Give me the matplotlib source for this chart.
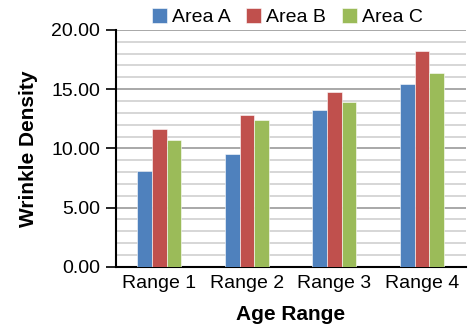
import numpy as np
import matplotlib
matplotlib.use('Agg')
import matplotlib.pyplot as plt
from matplotlib.ticker import MultipleLocator, FormatStrFormatter

plt.rcParams['font.family'] = ['Liberation Sans', 'DejaVu Sans']

categories = ['Range 1', 'Range 2', 'Range 3', 'Range 4']
area_a = [8.05, 9.5, 13.2, 15.4]
area_b = [11.6, 12.8, 14.8, 18.2]
area_c = [10.7, 12.4, 13.9, 16.4]
series = [('Area A', area_a, '#4F81BD'),
          ('Area B', area_b, '#C0504D'),
          ('Area C', area_c, '#9BBB59')]

fig = plt.figure(figsize=(4.68, 3.29), dpi=100)
ax = fig.add_axes([0.247, 0.189, 0.748, 0.72])

x = np.arange(len(categories))
w = 0.167
for i, (name, vals, col) in enumerate(series):
    ax.bar(x + (i - 1) * w, vals, w, color=col, label=name,
           edgecolor='white', linewidth=0.4, zorder=3)

ax.set_xlim(-0.5, 3.5)
ax.set_ylim(0, 20)
ax.yaxis.set_major_locator(MultipleLocator(5))
ax.yaxis.set_minor_locator(MultipleLocator(1))
ax.yaxis.set_major_formatter(FormatStrFormatter('%.2f'))
ax.grid(True, which='minor', axis='y', color='#CFCFCF', linewidth=1.2, zorder=0)
ax.grid(True, which='major', axis='y', color='#9A9A9A', linewidth=1.2, zorder=0)
ax.set_xticks(x)
ax.set_xticklabels(categories)
ax.tick_params(axis='x', length=0, labelsize=14, pad=6)
ax.tick_params(axis='y', which='major', length=7, width=1.2, labelsize=14,
               direction='out', pad=4)
ax.tick_params(axis='y', which='minor', length=0)

for s in ['top', 'right']:
    ax.spines[s].set_visible(False)
ax.spines['left'].set_linewidth(1.5)
ax.spines['bottom'].set_linewidth(1.5)

ax.set_xlabel('Age Range', fontsize=15, fontweight='bold', labelpad=9)
ax.set_ylabel('Wrinkle Density', fontsize=15, fontweight='bold', labelpad=10)

fig.legend(*ax.get_legend_handles_labels(), loc='center',
           bbox_to_anchor=(0.614, 0.947), bbox_transform=fig.transFigure,
           ncol=3, frameon=False, fontsize=14, handlelength=0.76,
           handleheight=0.76, handletextpad=0.27, columnspacing=0.8,
           borderaxespad=0, borderpad=0)

fig.savefig('out.png', dpi=100)
